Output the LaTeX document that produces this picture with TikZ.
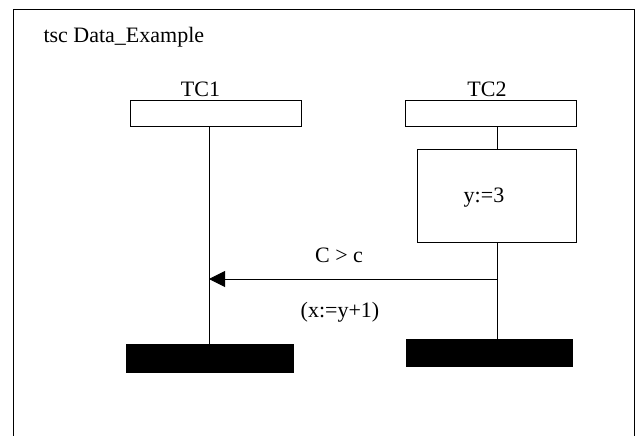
\documentclass[tikz,border=0pt]{standalone}
\usepackage{fontspec}
\setmainfont{Liberation Serif}
\usetikzlibrary{arrows.meta,positioning}

\begin{document}
\begin{tikzpicture}[x=1pt, y=-1pt, line width=1pt,
    txt/.style={font=\fontsize{22}{26}\selectfont, inner sep=0pt, anchor=base},
    head/.style={draw, minimum width=171pt, minimum height=26pt, inner sep=0pt},
    act/.style={draw, minimum width=159pt, minimum height=93pt, inner sep=0pt},
    stop/.style={draw, fill=black, inner sep=0pt},
    arr/.style={-{Triangle[length=16pt, width=16pt]}}
]
\useasboundingbox (0,0) rectangle (638,436);
\draw (13,436) -- (13,10) -- (634,10) -- (634,436);
\node[txt, anchor=base west] (title) at (43,43) {tsc Data\_Example};
\node[head] (tc1) at (215.5,114) {};
\node[head] (tc2) at (490.5,114) {};
\node[txt] (tc1name) at (200.5,97) {TC1};
\node[txt] (tc2name) at (487,97) {TC2};
\node[act] (assign) at (496.5,195.5) {};
\node[txt] (assigntxt) at (484,202) {y:=3};
\node[stop, minimum width=167pt, minimum height=28pt] (tc1end) at (209.5,358) {};
\node[stop, minimum width=166pt, minimum height=27pt] (tc2end) at (489,352.5) {};
\coordinate (tc1top) at (209,127);
\coordinate (tc1bot) at (209,344);
\coordinate (tc2top) at (497,127);
\coordinate (tc2bot) at (497,339);
\coordinate (msgout) at (497,279);
\coordinate (msgin) at (209,279);
\draw (tc1top) -- (tc1bot);
\draw (tc2top) -- (assign.north -| tc2top);
\draw (assign.south -| tc2top) -- (tc2bot);
\draw[arr] (msgout) -- (msgin);
\node[txt] (msgname) at (339,262) {C > c};
\node[txt] (msgparam) at (340,317) {(x:=y+1)};
\end{tikzpicture}
\end{document}
